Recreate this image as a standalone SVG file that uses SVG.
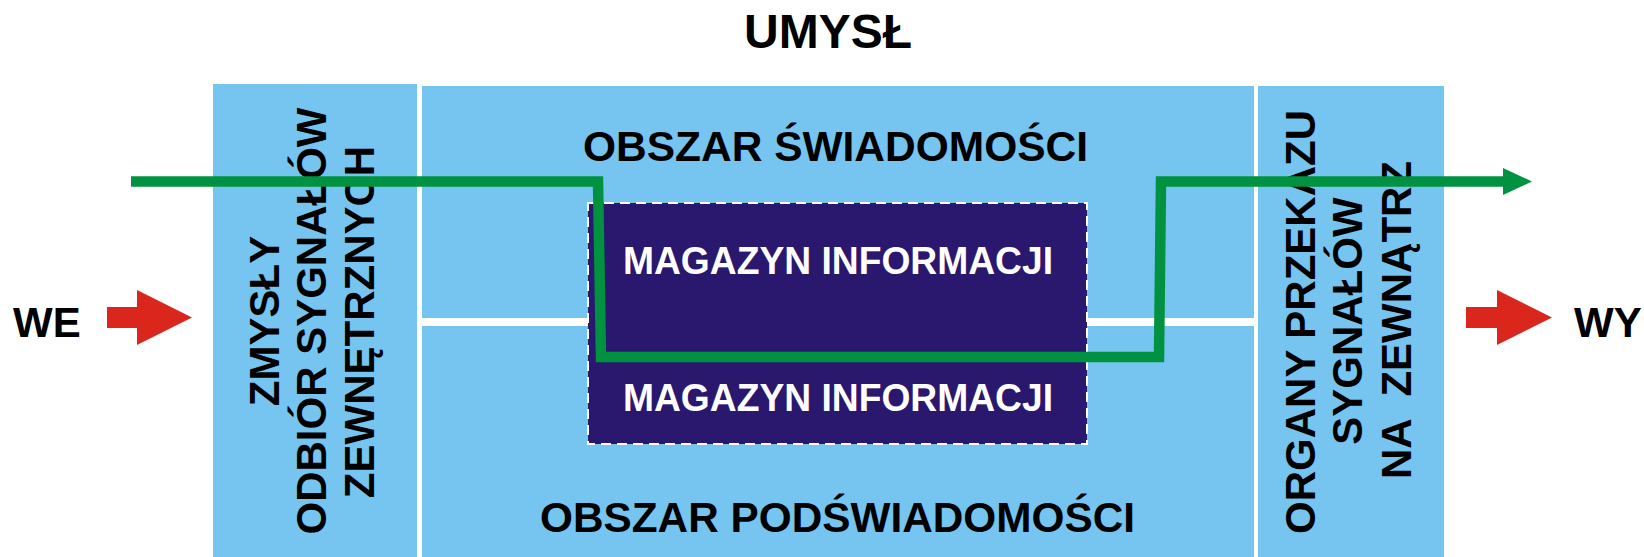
<svg xmlns="http://www.w3.org/2000/svg" width="1644" height="557" viewBox="0 0 1644 557">
  <style>
    .panel { fill: #76C4F0; }
    .t { font-family: "Liberation Sans", Arial, sans-serif; font-weight: bold; fill: #000; }
    .w { fill: #FFFFFF; }
    .red { fill: #DA261D; }
  </style>
  <defs>
    <marker id="gArrow" markerWidth="29" markerHeight="27" refX="0" refY="13.5" markerUnits="userSpaceOnUse" orient="auto">
      <path d="M0,0 L29,13.5 L0,27 Z" fill="#009240"/>
    </marker>
  </defs>
  <rect width="1644" height="557" fill="#FFFFFF"/>

  <g id="title">
    <text class="t" x="828" y="48" font-size="48" text-anchor="middle">UMYSŁ</text>
  </g>

  <g id="we">
    <text class="t" x="13" y="337" font-size="42">WE</text>
    <path class="red" d="M107,307 H137 V290 L192,317.5 L137,345 V328 H107 Z"/>
  </g>

  <g id="wy">
    <path class="red" d="M1466,307 H1497 V290 L1552,317.5 L1497,345 V328 H1466 Z"/>
    <text class="t" x="1574" y="337" font-size="42">WY</text>
  </g>

  <g id="zmysly">
    <rect class="panel" x="213" y="84" width="204" height="473"/>
    <text class="t" font-size="42" text-anchor="middle" transform="translate(279,321) rotate(-90)">ZMYSŁY</text>
    <text class="t" font-size="42" text-anchor="middle" transform="translate(326,321) rotate(-90)">ODBIÓR SYGNAŁÓW</text>
    <text class="t" font-size="42" text-anchor="middle" transform="translate(374,322) rotate(-90)">ZEWNĘTRZNYCH</text>
  </g>

  <g id="swiadomosc">
    <rect class="panel" x="422" y="86" width="832" height="232"/>
    <text class="t" x="835.5" y="161" font-size="43" text-anchor="middle" textLength="505" lengthAdjust="spacingAndGlyphs">OBSZAR ŚWIADOMOŚCI</text>
  </g>

  <g id="podswiadomosc">
    <rect class="panel" x="422" y="326" width="832" height="231"/>
    <text class="t" x="837.5" y="532" font-size="43" text-anchor="middle" textLength="595" lengthAdjust="spacingAndGlyphs">OBSZAR PODŚWIADOMOŚCI</text>
  </g>

  <g id="organy">
    <rect class="panel" x="1258" y="86" width="186" height="471"/>
    <text class="t" font-size="42" text-anchor="middle" transform="translate(1315,322) rotate(-90)">ORGANY PRZEKAZU</text>
    <text class="t" font-size="42" text-anchor="middle" transform="translate(1362,321) rotate(-90)">SYGNAŁÓW</text>
    <text class="t" font-size="42" text-anchor="middle" xml:space="preserve" style="white-space:pre" transform="translate(1411,320) rotate(-90)">NA  ZEWNĄTRZ</text>
  </g>

  <g id="magazyn">
    <rect x="588" y="203" width="499" height="241" fill="#2A176E" stroke="#FFFFFF" stroke-width="2" stroke-dasharray="10,6"/>
    <text class="t w" x="838" y="274" font-size="38" text-anchor="middle" textLength="430" lengthAdjust="spacingAndGlyphs">MAGAZYN INFORMACJI</text>
    <text class="t w" x="838" y="411" font-size="38" text-anchor="middle" textLength="430" lengthAdjust="spacingAndGlyphs">MAGAZYN INFORMACJI</text>
  </g>

  <g id="connectors">
    <path d="M131,181.5 H598 L601,357 H1159 L1161,181.5 H1503" fill="none" stroke="#009240" stroke-width="10.5" stroke-linejoin="miter" marker-end="url(#gArrow)"/>
  </g>
</svg>
